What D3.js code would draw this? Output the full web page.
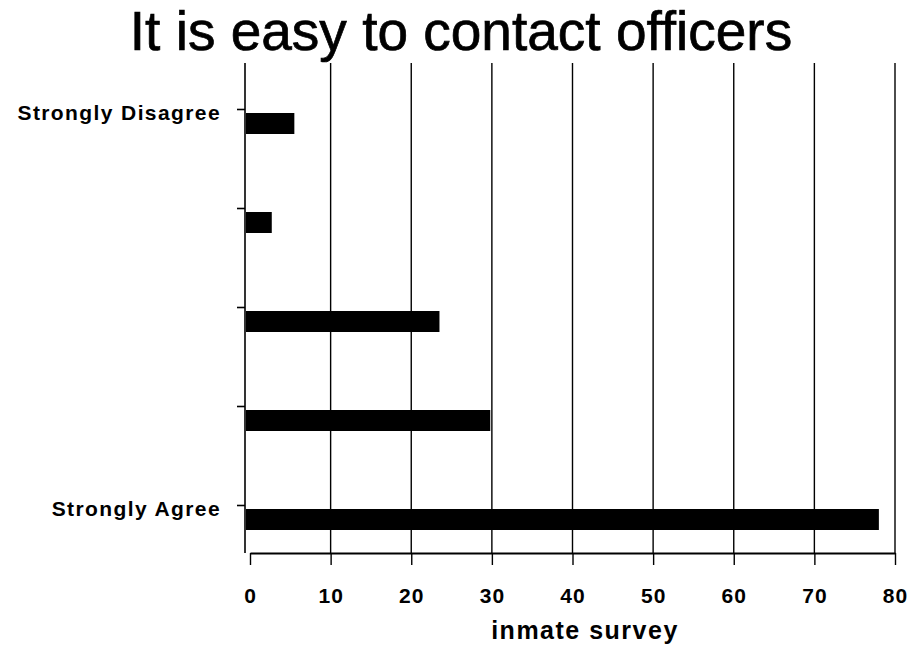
<!DOCTYPE html>
<html><head><meta charset="utf-8">
<script src="https://cdn.jsdelivr.net/npm/d3@7"></script>
<style>body{margin:0;background:#fff}svg{display:block}</style>
</head><body>
<script>
const title = "It is easy to contact officers";
const categories = ["Strongly Disagree", "", " ", "  ", "Strongly Agree"];
const values = [5.5, 2.7, 23.5, 29.8, 78];
const xTicks = [0, 10, 20, 30, 40, 50, 60, 70, 80];
const xTitle = "inmate survey";

const W = 911, H = 650;
const svg = d3.select("body").append("svg").attr("width", W).attr("height", H);
const font = "'Liberation Sans', Arial, sans-serif";

const x = d3.scaleLinear().domain([0, 80]).range([250, 895]);
const y = d3.scalePoint().domain(categories).range([109, 505]);
const plotTop = 63, plotBase = 553;

// gridlines
svg.append("g").selectAll("line").data(xTicks.slice(1)).join("line")
  .attr("x1", d => x(d)).attr("x2", d => x(d))
  .attr("y1", plotTop).attr("y2", plotBase)
  .attr("stroke", "#000").attr("stroke-width", 1.4);

// x axis
const xAxis = d3.axisBottom(x).tickValues(xTicks).tickSize(12).tickPadding(23).tickSizeOuter(0);
const gx = svg.append("g").attr("transform", `translate(0,${plotBase})`).call(xAxis);
gx.select(".domain").attr("stroke-width", 2);
gx.selectAll(".tick line").attr("stroke-width", 1.4);
gx.selectAll("text").attr("font-family", font).attr("font-weight", "bold")
  .attr("font-size", 21).attr("letter-spacing", 1).attr("fill", "#000");

// y axis
const yAxis = d3.axisLeft(y).tickSize(8).tickPadding(16).tickSizeOuter(0);
const gy = svg.append("g").attr("transform", `translate(${x(0) - 5},0)`).call(yAxis);
gy.select(".domain").remove();
gy.append("line").attr("x1", 0).attr("x2", 0).attr("y1", plotTop).attr("y2", plotBase)
  .attr("stroke", "#000").attr("stroke-width", 1.6);
gy.selectAll(".tick line").attr("stroke-width", 1.6);
gy.selectAll("text").attr("font-family", font).attr("font-weight", "bold")
  .attr("font-size", 21).attr("letter-spacing", 1.4).attr("fill", "#000").attr("dy", "0.5em");

// bars
svg.append("g").selectAll("rect").data(values).join("rect")
  .attr("x", x(0) - 4)
  .attr("y", (d, i) => y(categories[i]) + 4)
  .attr("width", d => x(d) - x(0) + 4)
  .attr("height", 21)
  .attr("fill", "#000");

// title
svg.append("text").attr("x", 461).attr("y", 50).attr("text-anchor", "middle")
  .attr("font-family", font).attr("font-size", 55).attr("fill", "#000")
  .attr("stroke", "#000").attr("stroke-width", 0.7).text(title);

// x title
svg.append("text").attr("x", 585).attr("y", 639).attr("text-anchor", "middle")
  .attr("font-family", font).attr("font-weight", "bold").attr("font-size", 25)
  .attr("letter-spacing", 1.5).attr("fill", "#000").text(xTitle);
</script>
</body></html>
